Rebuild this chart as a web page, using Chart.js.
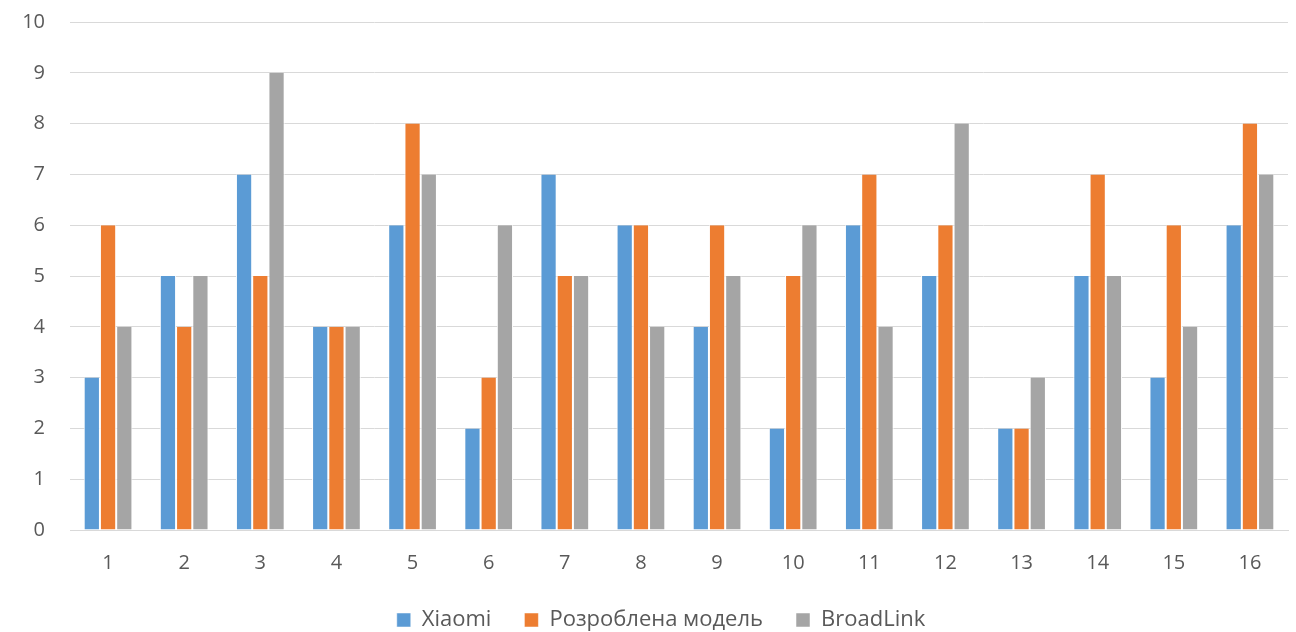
<!DOCTYPE html>
<html>
<head>
<meta charset="utf-8">
<script src="https://cdn.jsdelivr.net/npm/chart.js@4/dist/chart.umd.min.js"></script>
<style>
  html, body { margin: 0; padding: 0; background: #ffffff; }
  #wrap { width: 1296px; height: 632px; }
</style>
</head>
<body>
<div id="wrap"><canvas id="c" width="1296" height="632"></canvas></div>
<script>
const categories = ['1','2','3','4','5','6','7','8','9','10','11','12','13','14','15','16'];
const xiaomi     = [3, 5, 7, 4, 6, 2, 7, 6, 4, 2, 6, 5, 2, 5, 3, 6];
const developed  = [6, 4, 5, 4, 8, 3, 5, 6, 6, 5, 7, 6, 2, 7, 6, 8];
const broadlink  = [4, 5, 9, 4, 7, 6, 5, 4, 5, 6, 4, 8, 3, 5, 4, 7];
const yTicks     = [0, 1, 2, 3, 4, 5, 6, 7, 8, 9, 10];

const FONT = '"Open Sans", "Noto Sans", sans-serif';
const TEXT = '#595959';

function series(label, data, color) {
  return {
    label, data,
    backgroundColor: color,
    borderColor: '#ffffff',
    borderWidth: { left: 1, right: 1, top: 0, bottom: 0 },
    borderSkipped: false,
    categoryPercentage: 0.64,
    barPercentage: 1.0
  };
}

// fixed axis gutters so the plot area sits where intended
function fixSide(width) {
  return (s) => { s.width = width; s.paddingTop = 0; s.paddingBottom = 0; };
}

new Chart(document.getElementById('c'), {
  type: 'bar',
  data: {
    labels: categories,
    datasets: [
      series('Xiaomi', xiaomi, '#5B9BD5'),
      series('Розроблена модель', developed, '#ED7D31'),
      series('BroadLink', broadlink, '#A5A5A5')
    ]
  },
  options: {
    responsive: false,
    animation: false,
    devicePixelRatio: 1,
    layout: { padding: { left: 0, right: -26, top: 22, bottom: -9 } },
    plugins: {
      legend: {
        position: 'bottom',
        labels: {
          font: { family: FONT, size: 22 },
          color: TEXT,
          boxWidth: 14,
          boxHeight: 14,
          padding: 33
        }
      },
      tooltip: { enabled: false }
    },
    scales: {
      x: {
        afterFit: (s) => { s.height = 46; },
        grid: { display: false, drawTicks: false },
        border: { display: true, color: '#d9d9d9', width: 1 },
        ticks: { font: { family: FONT, size: 20 }, color: TEXT, padding: 21 }
      },
      y: {
        min: 0, max: 10,
        afterBuildTicks: (s) => { s.ticks = yTicks.map(v => ({ value: v })); },
        afterFit: fixSide(70),
        grid: { color: '#d9d9d9', drawTicks: false },
        border: { display: false },
        ticks: { font: { family: FONT, size: 20 }, color: TEXT, padding: 25 }
      },
      yRight: {
        position: 'right',
        min: 0, max: 10,
        afterFit: fixSide(34),
        grid: { display: false, drawTicks: false },
        border: { display: false },
        ticks: { display: false }
      }
    }
  }
});
</script>
</body>
</html>
